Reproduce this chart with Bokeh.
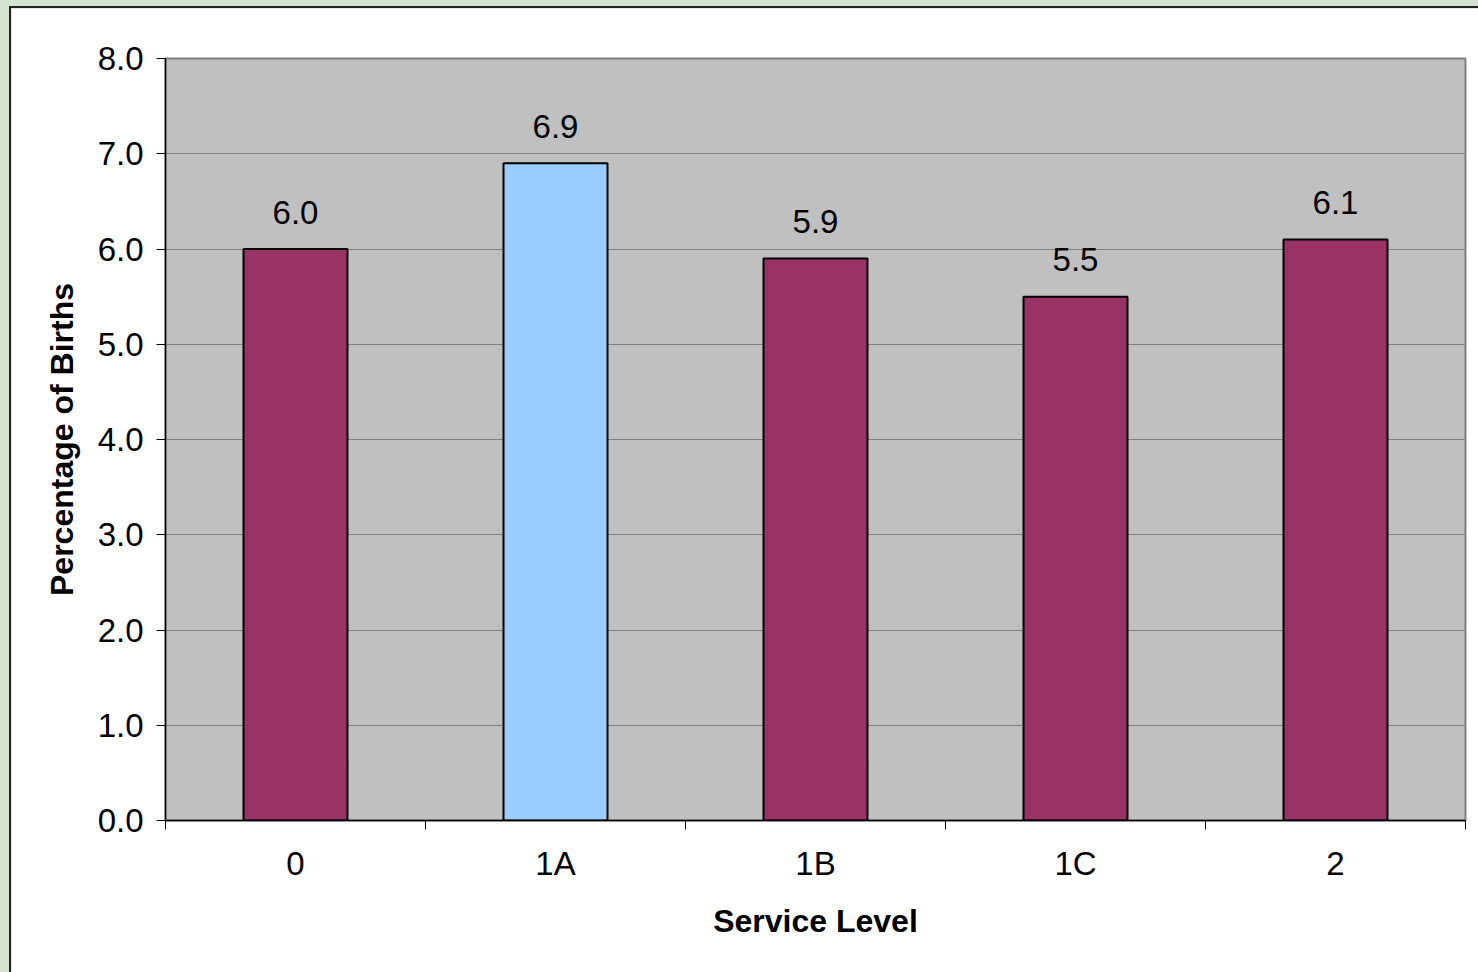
from bokeh.plotting import figure
from bokeh.models import (ColumnDataSource, Range1d, FixedTicker, PrintfTickFormatter,
                          GlobalInlineStyleSheet)
from bokeh.core.properties import value
from bokeh.embed import file_html
from bokeh.resources import INLINE

# ---- data ----
categories = ["0", "1A", "1B", "1C", "2"]
percentages = [6.0, 6.9, 5.9, 5.5, 6.1]
bar_colors = ["#993366", "#99CCFF", "#993366", "#993366", "#993366"]
y_ticks = [0, 1, 2, 3, 4, 5, 6, 7, 8]
x_title = "Service Level"
y_title = "Percentage of Births"

FONT = "Liberation Sans"
NUM_SIZE = "33px"
TITLE_SIZE = "32px"

xs = [i + 0.5 for i in range(len(categories))]
src = ColumnDataSource(dict(
    x=xs, top=percentages, color=bar_colors,
    label=["%.1f" % v for v in percentages],
))

css = GlobalInlineStyleSheet(css="html,body{margin:0;padding:0;background:#D3E3D0;overflow:hidden;}")

p = figure(width=1475, height=970, output_backend="svg", toolbar_location=None,
           x_range=Range1d(0, len(categories)), y_range=Range1d(y_ticks[0], y_ticks[-1]),
           min_border_left=154, min_border_top=50, min_border_right=21, min_border_bottom=158,
           background_fill_color="#C0C0C0", border_fill_color="white",
           outline_line_color="#808080", outline_line_width=2)
p.margin = (6, 0, 0, 9)
p.styles = {"border-left": "2px solid #222222", "border-top": "2px solid #222222"}
p.stylesheets = [css]

p.vbar(x="x", top="top", width=0.4, bottom=0, fill_color="color",
       line_color="black", line_width=2, source=src)

p.text(x="x", y="top", text="label", source=src, text_align="center",
       text_baseline="alphabetic", y_offset=-37, text_font=value(FONT),
       text_font_size=NUM_SIZE, text_color="black")

# x axis
xa = p.xaxis[0]
xa.ticker = FixedTicker(ticks=xs, minor_ticks=list(range(len(categories) + 1)))
xa.major_label_overrides = {x: c for x, c in zip(xs, categories)}
xa.major_tick_line_color = None
xa.major_tick_out = 0
xa.major_tick_in = 0
xa.minor_tick_line_color = "black"
xa.minor_tick_out = 9
xa.minor_tick_in = 0
xa.axis_line_color = "black"
xa.axis_line_width = 1.5
xa.major_label_text_font = FONT
xa.major_label_text_font_size = NUM_SIZE
xa.major_label_text_color = "black"
xa.major_label_standoff = 15
xa.axis_label = x_title
xa.axis_label_text_font = FONT
xa.axis_label_text_font_size = TITLE_SIZE
xa.axis_label_text_font_style = "bold"
xa.axis_label_text_color = "black"
xa.axis_label_standoff = 18

# y axis
ya = p.yaxis[0]
ya.ticker = FixedTicker(ticks=y_ticks)
ya.formatter = PrintfTickFormatter(format="%.1f")
ya.major_tick_out = 9
ya.major_tick_in = 0
ya.major_tick_line_color = "black"
ya.minor_tick_line_color = None
ya.axis_line_color = "black"
ya.axis_line_width = 1.5
ya.major_label_text_font = FONT
ya.major_label_text_font_size = NUM_SIZE
ya.major_label_text_color = "black"
ya.major_label_standoff = 13
ya.axis_label = y_title
ya.axis_label_text_font = FONT
ya.axis_label_text_font_size = TITLE_SIZE
ya.axis_label_text_font_style = "bold"
ya.axis_label_text_color = "black"
ya.axis_label_standoff = 15

p.xgrid.grid_line_color = None
p.ygrid.ticker = FixedTicker(ticks=y_ticks)
p.ygrid.grid_line_color = "#808080"
p.ygrid.grid_line_width = 1

open("out.html", "w").write(file_html(p, INLINE))
